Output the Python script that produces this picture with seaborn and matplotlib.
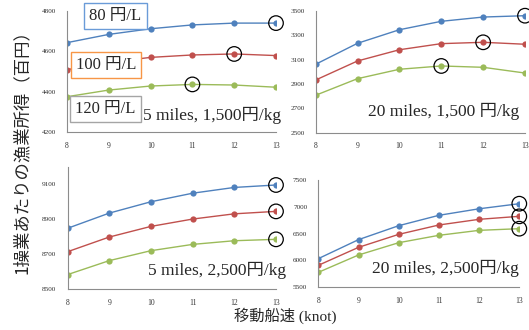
import pandas as pd
import matplotlib
matplotlib.use("Agg")
import matplotlib.pyplot as plt
import seaborn as sns

# 移動船速 (knot)
speeds = [8, 9, 10, 11, 12, 13]
prices = ["80 円/L", "100 円/L", "120 円/L"]

# 5 miles, 1,500円/kg
p1_80 = [4643, 4684, 4712, 4731, 4740, 4740]
p1_100 = [4509, 4545, 4570, 4582, 4587, 4579]
p1_120 = [4375, 4408, 4428, 4436, 4433, 4422]
# 20 miles, 1,500円/kg
p2_80 = [3061, 3233, 3344, 3413, 3448, 3459]
p2_100 = [2932, 3088, 3180, 3230, 3241, 3225]
p2_120 = [2807, 2943, 3020, 3047, 3036, 2989]
# 5 miles, 2,500円/kg
p3_80 = [8849, 8936, 9001, 9050, 9083, 9097]
p3_100 = [8715, 8799, 8860, 8902, 8932, 8946]
p3_120 = [8584, 8664, 8721, 8757, 8778, 8786]
# 20 miles, 2,500円/kg
p4_80 = [6030, 6385, 6646, 6840, 6962, 7057]
p4_100 = [5905, 6241, 6484, 6659, 6765, 6821]
p4_120 = [5774, 6098, 6328, 6466, 6559, 6590]

# circled (best) speed for each price, per panel
p1_best = [13, 12, 11]
p2_best = [13, 12, 11]
p3_best = [13, 13, 13]
p4_best = [13, 13, 13]

panel_titles = ["5 miles, 1,500円/kg", "20 miles, 1,500 円/kg",
                "5 miles, 2,500円/kg", "20 miles, 2,500円/kg"]

W, H = 529, 330
colors = ["#4F81BD", "#C0504D", "#9BBB59"]
box_colors = ["#6A9BD8", "#F79646", "#A5A5A5"]
serif = ["Liberation Serif", "Noto Sans CJK JP"]
cjk = ["Noto Sans CJK JP", "DejaVu Sans"]


def px_rect(left, right, top, bottom):
    return [left / W, 1 - bottom / H, (right - left) / W, (bottom - top) / H]


def make_df(series, best):
    rows = []
    for price, vals, b in zip(prices, series, best):
        for s, v in zip(speeds, vals):
            rows.append({"speed": s, "income": v, "price": price, "best": s == b})
    return pd.DataFrame(rows)


panels = [
    (make_df([p1_80, p1_100, p1_120], p1_best), px_rect(67, 276, 11, 132),
     (4200, 4800), [4200, 4400, 4600, 4800]),
    (make_df([p2_80, p2_100, p2_120], p2_best), px_rect(315.7, 525, 10.7, 132.7),
     (2500, 3500), [2500, 2700, 2900, 3100, 3300, 3500]),
    (make_df([p3_80, p3_100, p3_120], p3_best), px_rect(67.5, 276, 167, 289.3),
     (8500, 9200), [8500, 8700, 8900, 9100]),
    (make_df([p4_80, p4_100, p4_120], p4_best), px_rect(318.3, 519.3, 180, 287),
     (5500, 7500), [5500, 6000, 6500, 7000, 7500]),
]

sns.set_style("white")
fig = plt.figure(figsize=(W / 100, H / 100), dpi=100)

for df, rect, ylim, yticks in panels:
    ax = fig.add_axes(rect)
    sns.lineplot(data=df, x="speed", y="income", hue="price", palette=colors,
                 marker="o", markersize=4.5, markeredgewidth=0, linewidth=1.0,
                 legend=False, ax=ax)
    best = df[df["best"]]
    sns.scatterplot(data=best, x="speed", y="income", s=110, facecolor="none",
                    edgecolor="black", linewidth=0.9, legend=False, ax=ax,
                    clip_on=False, zorder=5)
    ax.set_xlim(8, 13)
    ax.set_ylim(*ylim)
    ax.set_xticks(speeds)
    ax.set_yticks(yticks)
    ax.set_xlabel("")
    ax.set_ylabel("")
    for sp in ["top", "right"]:
        ax.spines[sp].set_visible(False)
    for sp in ["left", "bottom"]:
        ax.spines[sp].set_color("#8C8C8C")
        ax.spines[sp].set_linewidth(0.8)
    ax.tick_params(axis="y", direction="inout", length=4, width=0.7,
                   color="#8C8C8C", pad=6, labelsize=5.2)
    ax.tick_params(axis="x", direction="inout", length=4, width=0.7,
                   color="#8C8C8C", pad=5, labelsize=5.5)
    for lab in ax.get_xticklabels() + ax.get_yticklabels():
        lab.set_fontfamily(serif)
        lab.set_color("#333333")

# price labels with coloured boxes
legend_pos = [(115.5, 16), (105.7, 64.5), (105.5, 108.5)]
for txt, (x, y), bc in zip(prices, legend_pos, box_colors):
    fig.text(x / W, 1 - y / H, txt, ha="center", va="center", fontsize=12,
             family=serif,
             bbox=dict(boxstyle="square,pad=0.3", facecolor="white",
                       edgecolor=bc, linewidth=1.0))

# panel captions
fig.text(143 / W, 1 - 115 / H, panel_titles[0], ha="left", va="center",
         fontsize=12.5, family=serif)
fig.text(519 / W, 1 - 111 / H, panel_titles[1], ha="right", va="center",
         fontsize=12.5, family=serif)
fig.text(148 / W, 1 - 270 / H, panel_titles[2], ha="left", va="center",
         fontsize=12.5, family=serif)
fig.text(519 / W, 1 - 268 / H, panel_titles[3], ha="right", va="center",
         fontsize=12.5, family=serif)

fig.text(22 / W, 1 - 148 / H, "1操業あたりの漁業所得（百円）", rotation=90,
         ha="center", va="center", fontsize=12.5, family=cjk)
fig.text(285 / W, 1 - 316 / H, "移動船速 (knot)", ha="center", va="center",
         fontsize=11, family=serif)

fig.savefig("out.png", dpi=100)
